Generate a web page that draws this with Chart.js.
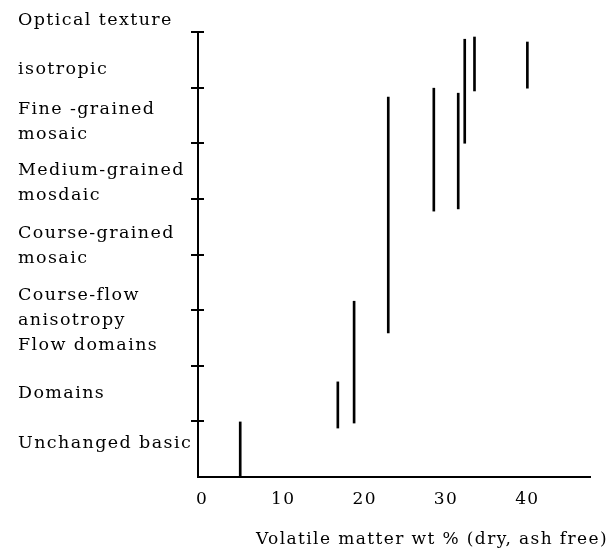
<!DOCTYPE html>
<html><head><meta charset="utf-8">
<script src="https://cdn.jsdelivr.net/npm/chart.js@4"></script>
<style>html,body{margin:0;padding:0;background:#fff}</style>
</head><body>
<canvas id="c" width="608" height="551"></canvas>
<script>
// Optical texture levels (bottom to top) and where their labels sit on the level scale
const textureLabels = [["Unchanged basic"],["Domains"],["Flow domains"],["Course-flow","anisotropy"],["Course-grained","mosaic"],["Medium-grained","mosdaic"],["Fine -grained","mosaic"],["isotropic"]];
const labelLevels = [0.61,1.51,2.36,3.04,4.16,5.29,6.39,7.32];
const levelTicks = [0,1,2,3,4,5,6,7,8];
const xTicks = [0,10,20,30,40];
// Volatile matter (wt %, daf) and the range of optical texture observed
const volatileMatter = [4.7,16.7,18.7,22.9,28.5,31.5,32.3,33.5,40.0];
const textureLow  = [0.00,0.88,0.97,2.59,4.78,4.82,6.00,6.94,6.99];
const textureHigh = [0.99,1.71,3.16,6.83,6.99,6.90,7.87,7.91,7.82];

const FONT = "'DejaVu Serif', 'Liberation Serif', serif";
const SPACING = '1.4px';

const spacingPlugin = {
  id: 'spacing',
  beforeUpdate(c){ c.ctx.letterSpacing = SPACING; },
  beforeLayout(c){ c.ctx.letterSpacing = SPACING; },
  beforeDraw(c){ c.ctx.letterSpacing = SPACING; }
};
const crossTicks = {
  id: 'crossTicks',
  afterDraw(chart){
    const s = chart.scales.y, ctx = chart.ctx, L = chart.chartArea.left;
    ctx.save(); ctx.strokeStyle = '#000'; ctx.lineWidth = 2;
    levelTicks.forEach(v => {
      if (v === 0) return;
      const y = Math.round(s.getPixelForValue(v));
      ctx.beginPath(); ctx.moveTo(L - 7, y); ctx.lineTo(L + 6, y); ctx.stroke();
    });
    ctx.restore();
  }
};

new Chart(document.getElementById('c'), {
  type: 'bar',
  data: {
    datasets: [{
      data: volatileMatter.map((v, i) => ({ x: v, y: [textureLow[i], textureHigh[i]] })),
      backgroundColor: '#000',
      borderWidth: 0,
      barThickness: 2,
      grouped: false
    }]
  },
  options: {
    responsive: false,
    animation: false,
    layout: { padding: { left: 18, right: 0, top: 0, bottom: 0 } },
    plugins: {
      legend: { display: false },
      tooltip: { enabled: false },
      title: {
        display: true, text: 'Optical texture', align: 'start', position: 'top',
        color: '#000', font: { family: FONT, size: 17.5, weight: 'normal', lineHeight: 1.2 },
        padding: { top: 9.5, bottom: 1.5 }
      },
      subtitle: {
        display: true, text: 'Volatile matter wt % (dry, ash free)', align: 'end', position: 'bottom',
        color: '#000', font: { family: FONT, size: 17, weight: 'normal', lineHeight: 1.2 },
        padding: { top: 0, bottom: 0.8 }
      }
    },
    scales: {
      x: {
        type: 'linear', min: -0.49, max: 47.7, offset: false,
        afterBuildTicks: s => { s.ticks = xTicks.map(v => ({ value: v })); },
        afterFit: s => { s.height = 52.8; },
        grid: { display: false, drawTicks: false, offset: false },
        border: { display: true, color: '#000', width: 2 },
        ticks: { color: '#000', padding: 12, autoSkip: false, maxRotation: 0,
                 font: { family: FONT, size: 17, lineHeight: 1.2 } }
      },
      y: {
        type: 'linear', position: 'left', min: 0, max: 8,
        afterBuildTicks: s => {
          s.ticks = levelTicks.concat(labelLevels).sort((a, b) => a - b).map(v => ({ value: v }));
        },
        afterFit: s => { s.width = 180; },
        grid: { display: false, drawTicks: false },
        border: { display: true, color: '#000', width: 2 },
        ticks: {
          autoSkip: false, crossAlign: 'far', color: '#000',
          font: { family: FONT, size: 17.5, lineHeight: 1.42 },
          callback: v => { const i = labelLevels.indexOf(v); return i >= 0 ? textureLabels[i] : ''; }
        }
      },
      yr: {
        type: 'linear', position: 'right', display: true,
        grid: { display: false, drawTicks: false },
        border: { display: false },
        ticks: { display: false },
        afterFit: s => { s.width = 18; }
      }
    }
  },
  plugins: [spacingPlugin, crossTicks]
});
</script>
</body></html>
